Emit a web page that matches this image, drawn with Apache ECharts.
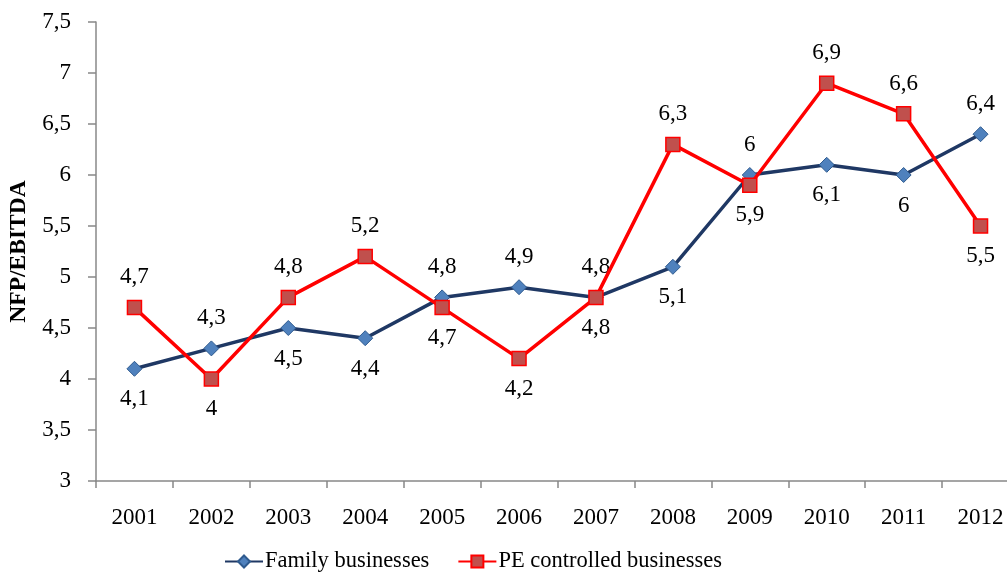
<!DOCTYPE html>
<html><head><meta charset="utf-8">
<script src="https://cdn.jsdelivr.net/npm/echarts@6/dist/echarts.min.js"></script>
<style>html,body{margin:0;padding:0;background:#fff}#c{width:1007px;height:574px}</style>
</head><body><div id="c"></div>
<script>
const years = ['2001','2002','2003','2004','2005','2006','2007','2008','2009','2010','2011','2012'];
const family = [4.1, 4.3, 4.5, 4.4, 4.8, 4.9, 4.8, 5.1, 6.0, 6.1, 6.0, 6.4];
const pe = [4.7, 4.0, 4.8, 5.2, 4.7, 4.2, 4.8, 6.3, 5.9, 6.9, 6.6, 5.5];
const familyLabelSide = ['bottom','top','bottom','bottom','top','top','top','bottom','top','bottom','bottom','top'];
const peLabelSide = ['top','bottom','top','top','bottom','bottom','bottom','top','bottom','top','top','bottom'];

const FONT = 'Liberation Serif';
const fmt = v => String(v).replace('.', ',');

function items(vals, sides) {
  return vals.map((v, i) => ({ value: v, label: { position: sides[i] } }));
}

const chart = echarts.init(document.getElementById('c'), null, { renderer: 'canvas' });
chart.setOption({
  animation: false,
  textStyle: { fontFamily: FONT },
  grid: { left: 96, right: -12, top: 22, bottom: 93, containLabel: false, outerBoundsMode: 'none' },
  legend: {
    bottom: -4, left: 219, itemWidth: 38, itemHeight: 15, itemGap: 28,
    textStyle: { fontFamily: FONT, fontSize: 22.5, color: '#000', padding: [0, 0, 0, -3] },
    data: ['Family businesses', 'PE controlled businesses']
  },
  xAxis: {
    type: 'category', data: years, boundaryGap: true,
    axisLine: { lineStyle: { color: '#888', width: 1.5 } },
    axisTick: { show: true, length: 7, lineStyle: { color: '#888', width: 1.5 } },
    axisLabel: { fontFamily: FONT, fontSize: 23, color: '#000', margin: 25 }
  },
  yAxis: {
    type: 'value', min: 3, max: 7.5, interval: 0.5,
    name: 'NFP/EBITDA', nameLocation: 'middle', nameGap: 64, nameRotate: 90,
    nameTextStyle: { fontFamily: FONT, fontSize: 23.5, fontWeight: 'bold', color: '#000' },
    axisLine: { show: true, lineStyle: { color: '#888', width: 1.5 } },
    axisTick: { show: true, length: 8, lineStyle: { color: '#888', width: 1.5 } },
    splitLine: { show: false },
    axisLabel: { fontFamily: FONT, fontSize: 23, color: '#000', margin: 25, formatter: v => fmt(v) }
  },
  series: [
    {
      name: 'Family businesses', type: 'line', data: items(family, familyLabelSide),
      symbol: 'diamond', symbolSize: 15,
      lineStyle: { color: '#1F3864', width: 3.5 },
      itemStyle: { color: '#4F81BD', borderColor: '#2E5A8E', borderWidth: 1 },
      label: { show: true, distance: 11, fontFamily: FONT, fontSize: 23, color: '#000', formatter: p => fmt(p.value) },
      z: 2
    },
    {
      name: 'PE controlled businesses', type: 'line', data: items(pe, peLabelSide),
      symbol: 'rect', symbolSize: 14,
      lineStyle: { color: '#FF0000', width: 3.5 },
      itemStyle: { color: '#C0504D', borderColor: '#FF0000', borderWidth: 1.5 },
      label: { show: true, distance: 11, fontFamily: FONT, fontSize: 23, color: '#000', formatter: p => fmt(p.value) },
      z: 3
    }
  ]
});
</script></body></html>
